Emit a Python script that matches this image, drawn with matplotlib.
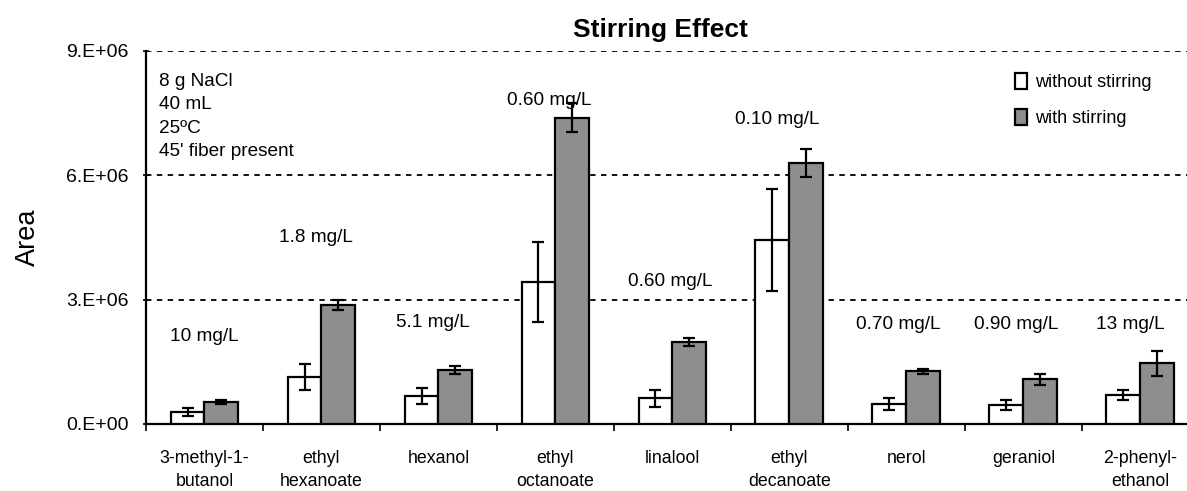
import matplotlib.pyplot as plt
import numpy as np

plt.rcParams['font.family'] = ['Liberation Sans', 'DejaVu Sans']

compounds = ['3-methyl-1-\nbutanol', 'ethyl\nhexanoate', 'hexanol', 'ethyl\noctanoate',
             'linalool', 'ethyl\ndecanoate', 'nerol', 'geraniol', '2-phenyl-\nethanol']
without_stirring = [0.29e6, 1.13e6, 0.67e6, 3.43e6, 0.62e6, 4.44e6, 0.48e6, 0.46e6, 0.70e6]
without_err = [0.10e6, 0.31e6, 0.20e6, 0.96e6, 0.20e6, 1.24e6, 0.14e6, 0.13e6, 0.12e6]
with_stirring = [0.53e6, 2.86e6, 1.30e6, 7.39e6, 1.97e6, 6.29e6, 1.27e6, 1.08e6, 1.46e6]
with_err = [0.05e6, 0.12e6, 0.10e6, 0.35e6, 0.10e6, 0.34e6, 0.06e6, 0.13e6, 0.30e6]
concentrations = ['10 mg/L', '1.8 mg/L', '5.1 mg/L', '0.60 mg/L', '0.60 mg/L',
                  '0.10 mg/L', '0.70 mg/L', '0.90 mg/L', '13 mg/L']
label_heights = [2.11e6, 4.49e6, 2.45e6, 7.8e6, 3.43e6, 7.34e6, 2.40e6, 2.40e6, 2.40e6]
label_shift = [0, -0.05, -0.05, -0.05, -0.02, -0.1, -0.07, -0.06, -0.09]

fig = plt.figure(figsize=(11.87, 4.91), dpi=100)
ax = fig.add_axes([0.123, 0.1365, 0.887, 0.7597])

x = np.arange(len(compounds))
w = 0.29
ebar = dict(ecolor='black', elinewidth=1.6, capsize=4, capthick=1.6)
ax.bar(x - w / 2, without_stirring, w, color='white', edgecolor='black', linewidth=1.6,
       yerr=without_err, error_kw=ebar, label='without stirring', zorder=3)
ax.bar(x + w / 2, with_stirring, w, color='#8e8e8e', edgecolor='black', linewidth=1.6,
       yerr=with_err, error_kw=ebar, label='with stirring', zorder=3)

for xi, txt, h, s in zip(x, concentrations, label_heights, label_shift):
    ax.text(xi + s, h, txt, ha='center', va='center', fontsize=13.7)

ax.text(0.012, 0.94, "8 g NaCl\n40 mL\n25ºC\n45' fiber present", transform=ax.transAxes,
        ha='left', va='top', fontsize=13.7, linespacing=1.47)

ax.set_ylim(0, 9e6)
ax.set_xlim(-0.5, 8.5)
ax.set_yticks([0, 3e6, 6e6, 9e6])
ax.set_yticklabels(['0.E+00', '3.E+06', '6.E+06', '9.E+06'], fontsize=14)
for yv in [3e6, 6e6, 9e6]:
    ax.axhline(yv, color='black', linestyle=(0, (3, 3)), linewidth=1.3, zorder=1)

ax.set_xticks(x)
ax.set_xticklabels(compounds, fontsize=12.8, va='top', linespacing=1.4)
ax.tick_params(axis='x', which='major', length=0, pad=19)
ax.set_xticks(np.arange(-0.5, 9, 1), minor=True)
ax.tick_params(axis='x', which='minor', length=5, width=1.2, direction='out')
ax.tick_params(axis='y', length=5, width=1.2, direction='inout', pad=10)

ax.spines['top'].set_visible(False)
ax.spines['right'].set_visible(False)
ax.spines['left'].set_linewidth(1.6)
ax.spines['bottom'].set_linewidth(1.6)

ax.set_ylabel('Area', fontsize=19.5, labelpad=18)
ax.set_title('Stirring Effect', fontsize=19, fontweight='bold', pad=10, x=0.489)

ax.legend(loc='upper right', bbox_to_anchor=(0.97, 0.985), frameon=False, fontsize=13,
          handlelength=0.7, handleheight=1.0, handletextpad=0.4, labelspacing=1.0)

fig.savefig('out.png', dpi=100)
